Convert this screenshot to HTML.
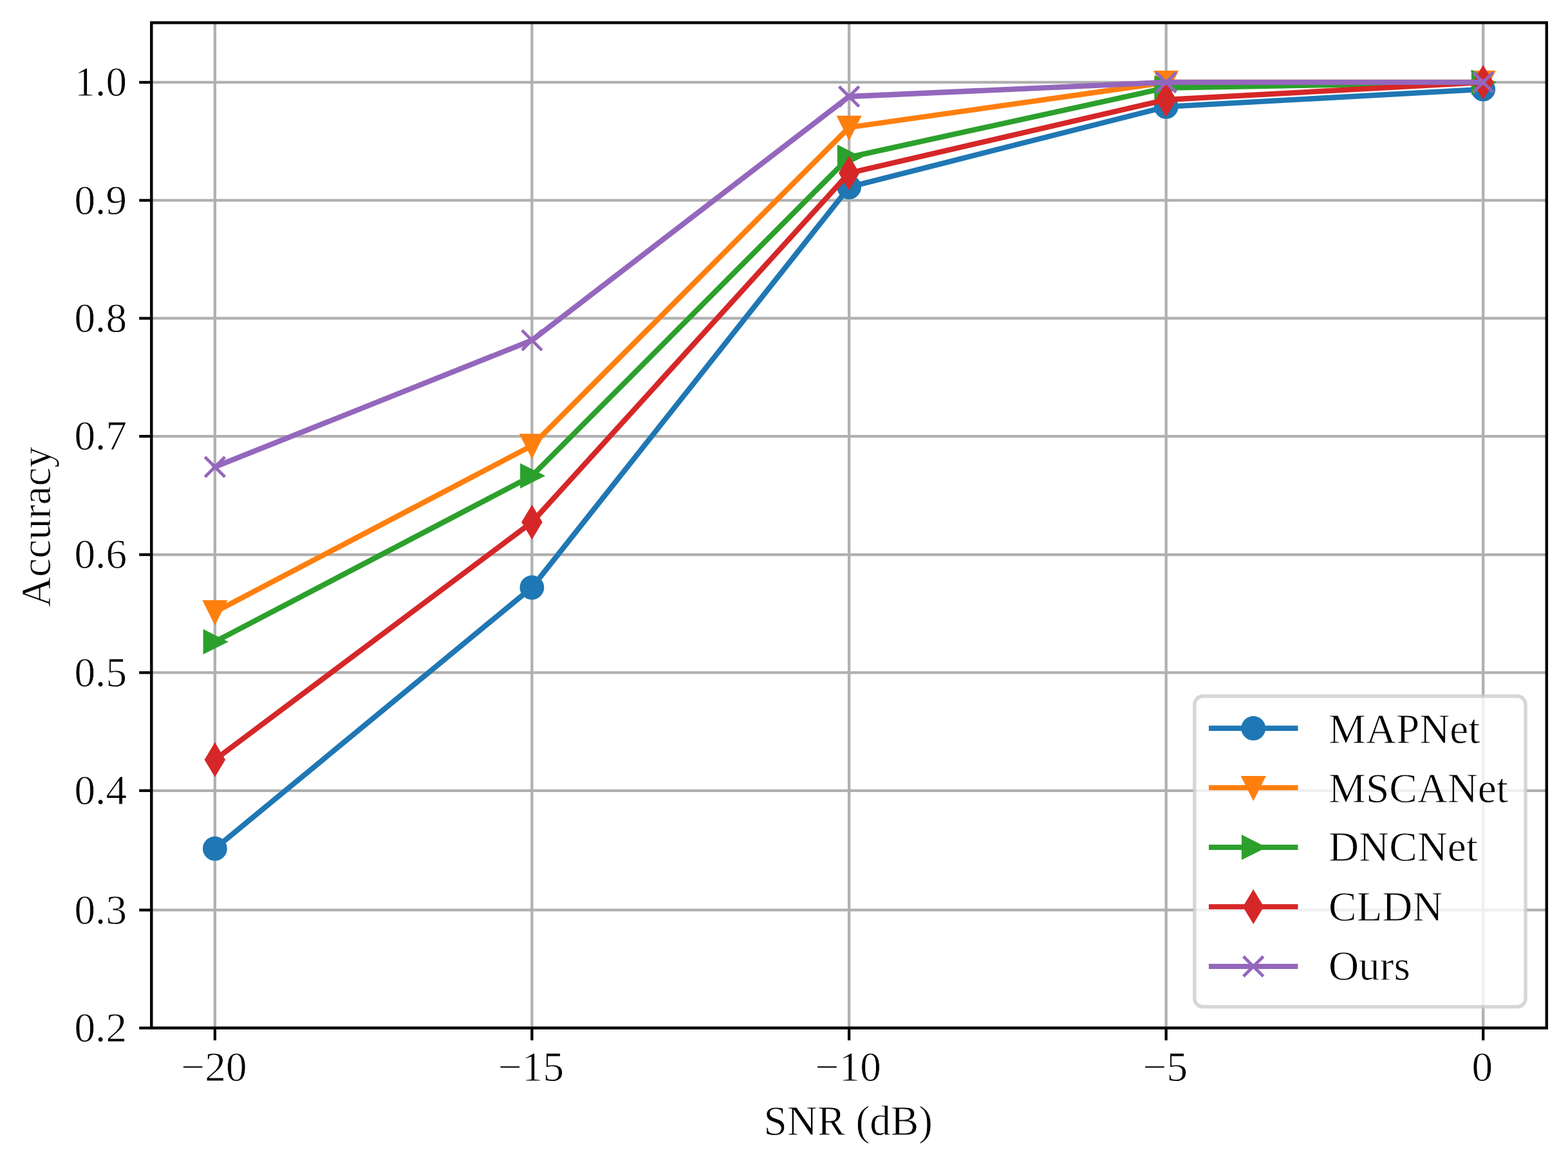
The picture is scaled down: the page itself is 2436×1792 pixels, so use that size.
<!DOCTYPE html>
<html lang="en"><head><meta charset="utf-8"><title>Accuracy vs SNR</title>
<style>html,body{margin:0;padding:0;background:#fff;}body{width:2436px;height:1792px;overflow:hidden;}svg{display:block;}text{font-family:"Liberation Serif","Times New Roman",serif;font-size:65.2px;fill:#000;stroke:#fff;stroke-width:0.8px;stroke-linejoin:round;}</style>
</head><body>
<svg xmlns="http://www.w3.org/2000/svg" width="2436" height="1792" viewBox="0 0 2436 1792">
<rect x="0" y="0" width="2436" height="1792" fill="#ffffff"/>
<defs><clipPath id="ax"><rect x="235.3" y="35.3" width="2167.5" height="1562.4"/></clipPath></defs>
<g stroke="#b0b0b0" stroke-width="4.3" fill="none" clip-path="url(#ax)">
<line x1="333.9" y1="35.3" x2="333.9" y2="1597.7"/>
<line x1="826.4" y1="35.3" x2="826.4" y2="1597.7"/>
<line x1="1319.1" y1="35.3" x2="1319.1" y2="1597.7"/>
<line x1="1811.65" y1="35.3" x2="1811.65" y2="1597.7"/>
<line x1="2304.2" y1="35.3" x2="2304.2" y2="1597.7"/>
<line x1="235.3" y1="1597.7" x2="2402.8" y2="1597.7"/>
<line x1="235.3" y1="1414.4" x2="2402.8" y2="1414.4"/>
<line x1="235.3" y1="1228.8" x2="2402.8" y2="1228.8"/>
<line x1="235.3" y1="1045.4" x2="2402.8" y2="1045.4"/>
<line x1="235.3" y1="862.05" x2="2402.8" y2="862.05"/>
<line x1="235.3" y1="678.1" x2="2402.8" y2="678.1"/>
<line x1="235.3" y1="494.7" x2="2402.8" y2="494.7"/>
<line x1="235.3" y1="311.4" x2="2402.8" y2="311.4"/>
<line x1="235.3" y1="127.95" x2="2402.8" y2="127.95"/>
</g>
<g stroke="#000" stroke-width="4.3" fill="none">
<line x1="333.9" y1="1597.7" x2="333.9" y2="1616.9"/>
<line x1="826.4" y1="1597.7" x2="826.4" y2="1616.9"/>
<line x1="1319.1" y1="1597.7" x2="1319.1" y2="1616.9"/>
<line x1="1811.65" y1="1597.7" x2="1811.65" y2="1616.9"/>
<line x1="2304.2" y1="1597.7" x2="2304.2" y2="1616.9"/>
<line x1="216.2" y1="1597.7" x2="235.3" y2="1597.7"/>
<line x1="216.2" y1="1414.4" x2="235.3" y2="1414.4"/>
<line x1="216.2" y1="1228.8" x2="235.3" y2="1228.8"/>
<line x1="216.2" y1="1045.4" x2="235.3" y2="1045.4"/>
<line x1="216.2" y1="862.05" x2="235.3" y2="862.05"/>
<line x1="216.2" y1="678.1" x2="235.3" y2="678.1"/>
<line x1="216.2" y1="494.7" x2="235.3" y2="494.7"/>
<line x1="216.2" y1="311.4" x2="235.3" y2="311.4"/>
<line x1="216.2" y1="127.95" x2="235.3" y2="127.95"/>
</g>
<g clip-path="url(#ax)">
<polyline points="333.9,1318.9 826.4,913.05 1319.1,290.8 1811.65,165.9 2304.2,138.7" fill="none" stroke="#1f77b4" stroke-width="8.3" stroke-linejoin="round" stroke-linecap="square"/>
<circle cx="333.9" cy="1318.9" r="16.2" fill="#1f77b4" stroke="#1f77b4" stroke-width="5.4"/>
<circle cx="826.4" cy="913.05" r="16.2" fill="#1f77b4" stroke="#1f77b4" stroke-width="5.4"/>
<circle cx="1319.1" cy="290.8" r="16.2" fill="#1f77b4" stroke="#1f77b4" stroke-width="5.4"/>
<circle cx="1811.65" cy="165.9" r="16.2" fill="#1f77b4" stroke="#1f77b4" stroke-width="5.4"/>
<circle cx="2304.2" cy="138.7" r="16.2" fill="#1f77b4" stroke="#1f77b4" stroke-width="5.4"/>
<polyline points="333.9,951.1 826.4,692.6 1319.1,198 1811.65,127.95 2304.2,127.95" fill="none" stroke="#ff7f0e" stroke-width="8.3" stroke-linejoin="round" stroke-linecap="square"/>
<polygon points="317.7,934.9 350.1,934.9 333.9,967.3" fill="#ff7f0e" stroke="#ff7f0e" stroke-width="4.2" stroke-linejoin="miter" stroke-miterlimit="10"/>
<polygon points="810.2,676.4 842.6,676.4 826.4,708.8" fill="#ff7f0e" stroke="#ff7f0e" stroke-width="4.2" stroke-linejoin="miter" stroke-miterlimit="10"/>
<polygon points="1302.9,181.8 1335.3,181.8 1319.1,214.2" fill="#ff7f0e" stroke="#ff7f0e" stroke-width="4.2" stroke-linejoin="miter" stroke-miterlimit="10"/>
<polygon points="1795.45,111.75 1827.85,111.75 1811.65,144.15" fill="#ff7f0e" stroke="#ff7f0e" stroke-width="4.2" stroke-linejoin="miter" stroke-miterlimit="10"/>
<polygon points="2288,111.75 2320.4,111.75 2304.2,144.15" fill="#ff7f0e" stroke="#ff7f0e" stroke-width="4.2" stroke-linejoin="miter" stroke-miterlimit="10"/>
<polyline points="333.9,997.4 826.4,739.6 1319.1,244.4 1811.65,136.5 2304.2,127.95" fill="none" stroke="#2ca02c" stroke-width="8.3" stroke-linejoin="round" stroke-linecap="square"/>
<polygon points="317.7,981.2 350.1,997.4 317.7,1013.6" fill="#2ca02c" stroke="#2ca02c" stroke-width="4.2" stroke-linejoin="miter" stroke-miterlimit="10"/>
<polygon points="810.2,723.4 842.6,739.6 810.2,755.8" fill="#2ca02c" stroke="#2ca02c" stroke-width="4.2" stroke-linejoin="miter" stroke-miterlimit="10"/>
<polygon points="1302.9,228.2 1335.3,244.4 1302.9,260.6" fill="#2ca02c" stroke="#2ca02c" stroke-width="4.2" stroke-linejoin="miter" stroke-miterlimit="10"/>
<polygon points="1795.45,120.3 1827.85,136.5 1795.45,152.7" fill="#2ca02c" stroke="#2ca02c" stroke-width="4.2" stroke-linejoin="miter" stroke-miterlimit="10"/>
<polygon points="2288,111.75 2320.4,127.95 2288,144.15" fill="#2ca02c" stroke="#2ca02c" stroke-width="4.2" stroke-linejoin="miter" stroke-miterlimit="10"/>
<polyline points="333.9,1180.7 826.4,811.6 1319.1,269 1811.65,155 2304.2,127.95" fill="none" stroke="#d62728" stroke-width="8.3" stroke-linejoin="round" stroke-linecap="square"/>
<polygon points="333.9,1157.79 347.65,1180.7 333.9,1203.61 320.15,1180.7" fill="#d62728" stroke="#d62728" stroke-width="4.3" stroke-linejoin="miter" stroke-miterlimit="10"/>
<polygon points="826.4,788.69 840.15,811.6 826.4,834.51 812.65,811.6" fill="#d62728" stroke="#d62728" stroke-width="4.3" stroke-linejoin="miter" stroke-miterlimit="10"/>
<polygon points="1319.1,246.09 1332.85,269 1319.1,291.91 1305.35,269" fill="#d62728" stroke="#d62728" stroke-width="4.3" stroke-linejoin="miter" stroke-miterlimit="10"/>
<polygon points="1811.65,132.09 1825.4,155 1811.65,177.91 1797.9,155" fill="#d62728" stroke="#d62728" stroke-width="4.3" stroke-linejoin="miter" stroke-miterlimit="10"/>
<polygon points="2304.2,105.04 2317.95,127.95 2304.2,150.86 2290.45,127.95" fill="#d62728" stroke="#d62728" stroke-width="4.3" stroke-linejoin="miter" stroke-miterlimit="10"/>
<polyline points="333.9,725.7 826.4,528.9 1319.1,150 1811.65,127.95 2304.2,127.95" fill="none" stroke="#9467bd" stroke-width="8.3" stroke-linejoin="round" stroke-linecap="square"/>
<path d="M318.4 710.2L349.4 741.2M318.4 741.2L349.4 710.2" fill="none" stroke="#9467bd" stroke-width="4.8" stroke-linecap="butt"/>
<path d="M810.9 513.4L841.9 544.4M810.9 544.4L841.9 513.4" fill="none" stroke="#9467bd" stroke-width="4.8" stroke-linecap="butt"/>
<path d="M1303.6 134.5L1334.6 165.5M1303.6 165.5L1334.6 134.5" fill="none" stroke="#9467bd" stroke-width="4.8" stroke-linecap="butt"/>
<path d="M1796.15 112.45L1827.15 143.45M1796.15 143.45L1827.15 112.45" fill="none" stroke="#9467bd" stroke-width="4.8" stroke-linecap="butt"/>
<path d="M2288.7 112.45L2319.7 143.45M2288.7 143.45L2319.7 112.45" fill="none" stroke="#9467bd" stroke-width="4.8" stroke-linecap="butt"/>
</g>
<rect x="235.3" y="35.3" width="2167.5" height="1562.4" fill="none" stroke="#000" stroke-width="4.45" stroke-linejoin="miter"/>
<text x="332.6" y="1680.2" text-anchor="middle">−20</text>
<text x="825.1" y="1680.2" text-anchor="middle">−15</text>
<text x="1317.8" y="1680.2" text-anchor="middle">−10</text>
<text x="1810.35" y="1680.2" text-anchor="middle">−5</text>
<text x="2302.9" y="1680.2" text-anchor="middle">0</text>
<text x="197" y="1618.9" text-anchor="end">0.2</text>
<text x="197" y="1435.6" text-anchor="end">0.3</text>
<text x="197" y="1250" text-anchor="end">0.4</text>
<text x="197" y="1066.6" text-anchor="end">0.5</text>
<text x="197" y="883.25" text-anchor="end">0.6</text>
<text x="197" y="699.3" text-anchor="end">0.7</text>
<text x="197" y="515.9" text-anchor="end">0.8</text>
<text x="197" y="332.6" text-anchor="end">0.9</text>
<text x="197" y="149.15" text-anchor="end">1.0</text>
<text x="1317.75" y="1763.8" text-anchor="middle">SNR (dB)</text>
<text transform="translate(77.8 818.9) rotate(-90)" text-anchor="middle">Accuracy</text>
<rect x="1855.8" y="1082" width="514.3" height="482.8" rx="13" ry="13" fill="#ffffff" fill-opacity="0.8" stroke="#cccccc" stroke-opacity="0.8" stroke-width="5.4"/>
<line x1="1882" y1="1131.9" x2="2012.4" y2="1131.9" stroke="#1f77b4" stroke-width="8.1" stroke-linecap="square"/>
<circle cx="1947.2" cy="1131.9" r="16.2" fill="#1f77b4" stroke="#1f77b4" stroke-width="5.4"/>
<text x="2064" y="1155.1">MAPNet</text>
<line x1="1882" y1="1224.2" x2="2012.4" y2="1224.2" stroke="#ff7f0e" stroke-width="8.1" stroke-linecap="square"/>
<polygon points="1931,1208 1963.4,1208 1947.2,1240.4" fill="#ff7f0e" stroke="#ff7f0e" stroke-width="4.2" stroke-linejoin="miter" stroke-miterlimit="10"/>
<text x="2064" y="1246.5">MSCANet</text>
<line x1="1882" y1="1316.9" x2="2012.4" y2="1316.9" stroke="#2ca02c" stroke-width="8.1" stroke-linecap="square"/>
<polygon points="1931,1300.7 1963.4,1316.9 1931,1333.1" fill="#2ca02c" stroke="#2ca02c" stroke-width="4.2" stroke-linejoin="miter" stroke-miterlimit="10"/>
<text x="2064" y="1337.7">DNCNet</text>
<line x1="1882" y1="1409.2" x2="2012.4" y2="1409.2" stroke="#d62728" stroke-width="8.1" stroke-linecap="square"/>
<polygon points="1947.2,1386.29 1960.95,1409.2 1947.2,1432.11 1933.45,1409.2" fill="#d62728" stroke="#d62728" stroke-width="4.3" stroke-linejoin="miter" stroke-miterlimit="10"/>
<text x="2064" y="1430.9">CLDN</text>
<line x1="1882" y1="1502" x2="2012.4" y2="1502" stroke="#9467bd" stroke-width="8.1" stroke-linecap="square"/>
<path d="M1931.7 1486.5L1962.7 1517.5M1931.7 1517.5L1962.7 1486.5" fill="none" stroke="#9467bd" stroke-width="4.8" stroke-linecap="butt"/>
<text x="2064" y="1523.1">Ours</text>
</svg>
</body></html>
